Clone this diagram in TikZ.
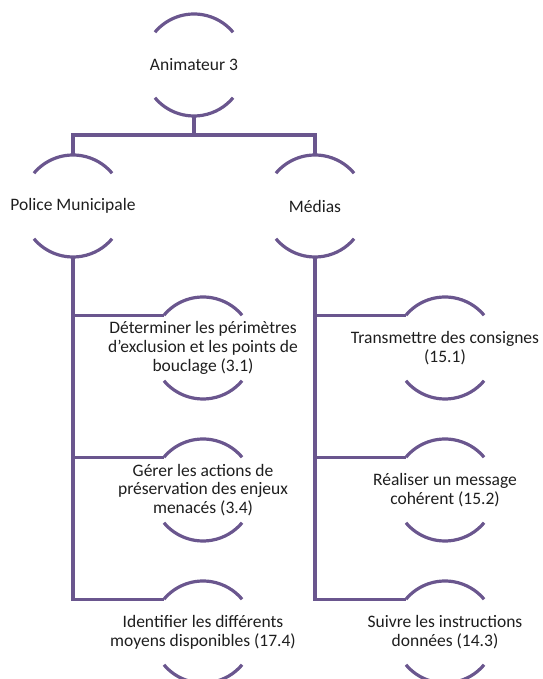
\documentclass[tikz,border=0pt]{standalone}
\usepackage{fontspec}
\setmainfont{Carlito}
\usetikzlibrary{calc}
\definecolor{lineP}{RGB}{106,86,142}
\definecolor{txtC}{RGB}{30,30,30}
\begin{document}
\begin{tikzpicture}[x=1pt,y=1pt,
  hub/.style={circle, minimum size=102pt, inner sep=0pt, outer sep=0pt, draw=none},
  txt/.style={align=center, text=txtC, font=\fontsize{17.5}{18.8}\selectfont, inner sep=0pt},
  arcline/.style={draw=lineP, line width=3.2pt},
  conn/.style={draw=lineP, line width=3.2pt}]
\useasboundingbox (0,0) rectangle (542,679);
% circles (anchors)
\node[hub] (root) at (194,614) {};
\node[hub] (police) at (73,473) {};
\node[hub] (medias) at (315,473) {};
\node[hub] (a1) at (203,331) {};
\node[hub] (a2) at (203,189) {};
\node[hub] (a3) at (203,47) {};
\node[hub] (b1) at (445,331) {};
\node[hub] (b2) at (445,189) {};
\node[hub] (b3) at (445,47) {};
% texts
\node[txt] (rootT) at (root) {Animateur 3};
\node[txt] (policeT) at (police) {Police Municipale};
\node[txt] (mediasT) at (medias) {Médias};
\node[txt] (a1T) at (a1) {Déterminer les périmètres\\d’exclusion et les points de\\bouclage (3.1)};
\node[txt] (a2T) at (a2) {Gérer les actions de\\préservation des enjeux\\menacés (3.4)};
\node[txt] (a3T) at (a3) {Identifier les différents\\moyens disponibles (17.4)};
\node[txt] (b1T) at (b1) {Transmettre des consignes\\(15.1)};
\node[txt] (b2T) at (b2) {Réaliser un message\\cohérent (15.2)};
\node[txt] (b3T) at (b3) {Suivre les instructions\\données (14.3)};
% arcs
\foreach \n in {root,police,medias,a1,a2,a3,b1,b2,b3} {
  \draw[arcline] (\n.140) arc[start angle=140, end angle=40, radius=51pt];
  \draw[arcline] (\n.220) arc[start angle=220, end angle=320, radius=51pt];
}
% connectors
\draw[conn] (root.south) -- ++(0,-19) -| (police.north);
\draw[conn] (root.south) -- ++(0,-19) -| (medias.north);
\foreach \c in {a1,a2,a3} \draw[conn] (police.south) |- (\c.140);
\foreach \c in {b1,b2,b3} \draw[conn] (medias.south) |- (\c.140);
\end{tikzpicture}
\end{document}
